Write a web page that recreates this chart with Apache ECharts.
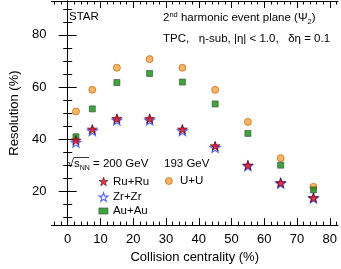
<!DOCTYPE html>
<html>
<head>
<meta charset="utf-8">
<script src="https://cdn.jsdelivr.net/npm/echarts@6/dist/echarts.min.js"></script>
<style>html,body{margin:0;padding:0;background:#fff}#c{width:341px;height:269px}</style>
</head>
<body>
<div id="c"></div>
<script>
const centrality = [2.5, 7.5, 15, 25, 35, 45, 55, 65, 75];
const ruru = [39.6, 43.8, 47.9, 47.9, 43.8, 37.4, 30.0, 23.3, 17.5];
const zrzr = [38.7, 43.2, 47.3, 47.3, 43.2, 36.7, 29.7, 23.0, 17.3];
const auau = [40.9, 51.6, 61.7, 65.2, 61.9, 53.5, 42.2, 30.0, 20.5];
const uu   = [50.6, 58.9, 67.4, 70.7, 67.4, 58.9, 46.6, 32.7, 21.7];
const xTicks = [0, 10, 20, 30, 40, 50, 60, 70, 80];
const xMinorTicks = [-4, -2, 2, 4, 6, 8, 12, 14, 16, 18, 22, 24, 26, 28, 32, 34, 36, 38, 42, 44, 46, 48, 52, 54, 56, 58, 62, 64, 66, 68, 72, 74, 76, 78, 82];
const yTicks = [20, 40, 60, 80];
const yMinorTicks = [10, 15, 25, 30, 35, 45, 50, 55, 65, 70, 75, 85, 90];

const FF = '"Liberation Sans", Arial, sans-serif';
const STAR = 'path://M0,-10 L2.35,-3.24 L9.51,-3.09 L3.8,1.24 L5.88,8.09 L0,4 L-5.88,8.09 L-3.8,1.24 L-9.51,-3.09 L-2.35,-3.24 Z';
const pts = arr => centrality.map((c, i) => [c, arr[i]]);

const black = {color: '#000', width: 1};
function xAx(pos, ticks, len, main) {
  return {
    type: 'value', position: pos, min: -5, max: 82.5,
    axisLine: {show: main, lineStyle: black},
    axisTick: {show: true, inside: true, length: len, customValues: ticks, lineStyle: black},
    axisLabel: (main && pos === 'bottom') ? {show: true, customValues: xTicks, margin: 8, color: '#000', fontSize: 13, fontFamily: FF} : {show: false},
    splitLine: {show: false},
    name: (main && pos === 'bottom') ? 'Collision centrality (%)' : '',
    nameLocation: 'middle', nameGap: 22,
    nameTextStyle: {color: '#000', fontSize: 13, fontFamily: FF}
  };
}
function yAx(pos, ticks, len, main) {
  return {
    type: 'value', position: pos, min: 7, max: 93,
    axisLine: {show: main, lineStyle: black},
    axisTick: {show: true, inside: true, length: len, customValues: ticks, lineStyle: black},
    axisLabel: (main && pos === 'left') ? {show: true, customValues: yTicks, margin: 5, color: '#000', fontSize: 13, fontFamily: FF} : {show: false},
    splitLine: {show: false},
    name: (main && pos === 'left') ? 'Resolution (%)' : '',
    nameLocation: 'middle', nameGap: 29,
    nameTextStyle: {color: '#000', fontSize: 13, fontFamily: FF}
  };
}

const chart = echarts.init(document.getElementById('c'), null, {renderer: 'canvas'});
const legText = {color: '#000', fontSize: 11.5, fontFamily: FF};
const uuStyle = {color: '#f7a240', borderColor: '#b35a00', borderWidth: 0.8};
const auStyle = {color: '#0d8f0d', borderColor: '#3a4a3a', borderWidth: 0.8};
const zrStyle = {color: 'rgba(255,255,255,0)', borderColor: '#2a3cff', borderWidth: 1.1};
const ruStyle = {color: '#e00010', borderColor: '#3a0000', borderWidth: 0.7};
chart.setOption({
  animation: false,
  grid: {left: 51, top: 1, width: 287, height: 227, containLabel: false},
  xAxis: [
    xAx('bottom', xTicks, 7, true),
    xAx('bottom', xMinorTicks, 3.5, false),
    xAx('top', xTicks, 7, true),
    xAx('top', xMinorTicks, 3.5, false)
  ],
  yAxis: [
    yAx('left', yTicks, 9, true),
    yAx('left', yMinorTicks, 4.5, false),
    yAx('right', yTicks, 9, true),
    yAx('right', yMinorTicks, 4.5, false)
  ],
  legend: [
    {data: [{name: 'Ru+Ru', icon: STAR, itemStyle: ruStyle}, {name: 'Zr+Zr', icon: STAR, itemStyle: zrStyle}],
      orient: 'vertical', left: 98.5, top: 175.5, itemWidth: 9, itemHeight: 9, itemGap: 3.5, selectedMode: false, textStyle: legText, padding: 0},
    {data: [{name: 'Au+Au', icon: 'rect', itemStyle: auStyle}], orient: 'vertical', left: 98.5, top: 205, itemWidth: 9, itemHeight: 6, selectedMode: false, textStyle: legText, padding: 0},
    {data: [{name: 'U+U', icon: 'circle', itemStyle: uuStyle}], orient: 'vertical', left: 165, top: 175, itemWidth: 12, itemHeight: 7, selectedMode: false, textStyle: legText, padding: 0}
  ],
  graphic: [
    {type: 'text', x: 69, y: 17, style: {text: 'STAR', font: '11.5px ' + FF, fill: '#000', textVerticalAlign: 'middle'}},
    {type: 'text', x: 163, y: 18, style: {
      text: '{n|2}{s|nd}{n| harmonic event plane (Ψ}{b|2}{n|)}',
      textVerticalAlign: 'middle', fill: '#000',
      rich: {
        n: {fontSize: 11.5, fontFamily: FF, lineHeight: 15, fill: '#000'},
        s: {fontSize: 7.5, fontFamily: FF, lineHeight: 9, verticalAlign: 'top', fill: '#000'},
        b: {fontSize: 7.5, fontFamily: FF, lineHeight: 9, verticalAlign: 'bottom', fill: '#000'}
      }}},
    {type: 'text', x: 163, y: 38.5, style: {text: 'TPC,   η-sub, |η| < 1.0,   δη = 0.1', font: '11.5px ' + FF, fill: '#000', textVerticalAlign: 'middle'}},
    {type: 'text', x: 67.5, y: 164, style: {text: '√', font: '11.5px ' + FF, fill: '#000', textVerticalAlign: 'middle'}},
    {type: 'line', shape: {x1: 73.5, y1: 157.5, x2: 89, y2: 157.5}, style: {stroke: '#000', lineWidth: 0.8}},
    {type: 'text', x: 74, y: 164, style: {
      text: '{n|s}{b|NN}{n| = 200 GeV}',
      textVerticalAlign: 'middle', fill: '#000',
      rich: {
        n: {fontSize: 11.5, fontFamily: FF, lineHeight: 15, fill: '#000'},
        b: {fontSize: 7, fontFamily: FF, lineHeight: 9, verticalAlign: 'bottom', fill: '#000'}
      }}},
    {type: 'text', x: 164, y: 164, style: {text: '193 GeV', font: '11.5px ' + FF, fill: '#000', textVerticalAlign: 'middle'}}
  ],
  series: [
    {name: 'U+U', type: 'scatter', data: pts(uu), symbol: 'circle', symbolSize: 7, itemStyle: uuStyle},
    {name: 'Au+Au', type: 'scatter', data: pts(auau), symbol: 'rect', symbolSize: 6, itemStyle: auStyle},
    {name: 'Zr+Zr', type: 'scatter', data: pts(zrzr), symbol: STAR, symbolSize: 10, symbolKeepAspect: true, itemStyle: zrStyle},
    {name: 'Ru+Ru', type: 'scatter', data: pts(ruru), symbol: STAR, symbolSize: 10, symbolKeepAspect: true, itemStyle: ruStyle}
  ]
});
</script>
</body>
</html>
